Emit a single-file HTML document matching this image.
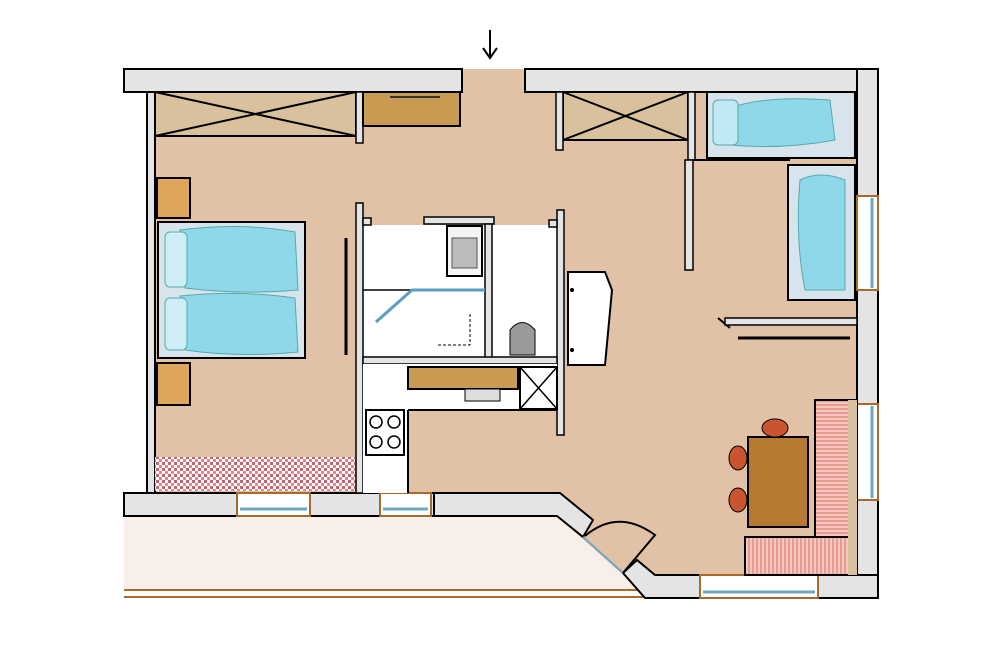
<!DOCTYPE html>
<html><head><meta charset="utf-8"><style>html,body{margin:0;padding:0;background:#fff}svg{display:block}</style></head>
<body>
<svg width="987" height="659" viewBox="0 0 987 659" xmlns="http://www.w3.org/2000/svg">
<defs>
<pattern id="chk" width="6" height="6" patternUnits="userSpaceOnUse"><rect width="6" height="6" fill="#fff"/><rect width="3" height="3" fill="#c9606a"/><rect x="3" y="3" width="3" height="3" fill="#d98a90"/></pattern>
<pattern id="str" width="4" height="4" patternUnits="userSpaceOnUse"><rect width="4" height="4" fill="#f3c7bd"/><rect width="2" height="4" fill="#e79a8f"/></pattern>
<pattern id="strh" width="4" height="4" patternUnits="userSpaceOnUse"><rect width="4" height="4" fill="#f3c7bd"/><rect width="4" height="2" fill="#e79a8f"/></pattern>
</defs>
<rect x="155" y="69" width="703" height="508" fill="#e1c2a6"/>
<polygon points="124,516 557,516 640,590 124,590" fill="#f8efea"/>
<line x1="124" y1="590" x2="645" y2="590" stroke="#a86a2c" stroke-width="2"/>
<line x1="124" y1="597" x2="645" y2="597" stroke="#a86a2c" stroke-width="2"/>
<rect x="124" y="69" width="338" height="23" fill="#e4e4e4" stroke="#000" stroke-width="2"/>
<rect x="525" y="69" width="353" height="23" fill="#e4e4e4" stroke="#000" stroke-width="2"/>
<rect x="147" y="92" width="8" height="401" fill="#e4e4e4" stroke="#000" stroke-width="2"/>
<rect x="857" y="69" width="21" height="529" fill="#e4e4e4" stroke="#000" stroke-width="2"/>
<rect x="857" y="196" width="21" height="94" fill="#fff" stroke="#a86a2c" stroke-width="2"/>
<line x1="872" y1="198" x2="872" y2="288" stroke="#6fa7c0" stroke-width="3"/>
<rect x="857" y="404" width="21" height="96" fill="#fff" stroke="#a86a2c" stroke-width="2"/>
<line x1="872" y1="406" x2="872" y2="498" stroke="#6fa7c0" stroke-width="3"/>
<rect x="124" y="493" width="310" height="23" fill="#e4e4e4" stroke="#000" stroke-width="2"/>
<polygon points="434,493 560,493 593,520 583,537 557,516 434,516" fill="#e4e4e4" stroke="#000" stroke-width="2"/>
<polygon points="623,573 637,560 655,575 700,575 700,598 645,598" fill="#e4e4e4" stroke="#000" stroke-width="2"/>
<line x1="583" y1="537" x2="623" y2="573" stroke="#6fa7c0" stroke-width="2"/>
<path d="M585,536 Q618,508 655,535 L623,573" fill="none" stroke="#000" stroke-width="2"/>
<rect x="818" y="575" width="60" height="23" fill="#e4e4e4" stroke="#000" stroke-width="2"/>
<rect x="237" y="493" width="73" height="23" fill="#fff" stroke="#a86a2c" stroke-width="2"/>
<line x1="240" y1="509" x2="307" y2="509" stroke="#6fa7c0" stroke-width="3"/>
<rect x="380" y="493" width="51" height="23" fill="#fff" stroke="#a86a2c" stroke-width="2"/>
<line x1="383" y1="509" x2="428" y2="509" stroke="#6fa7c0" stroke-width="3"/>
<rect x="700" y="575" width="118" height="23" fill="#fff" stroke="#a86a2c" stroke-width="2"/>
<line x1="703" y1="592" x2="815" y2="592" stroke="#6fa7c0" stroke-width="3"/>
<rect x="155" y="92" width="201" height="44" fill="#d8c19c" stroke="#000" stroke-width="2"/>
<path d="M155,92 L356,136 M356,92 L155,136" stroke="#000" stroke-width="2"/>
<rect x="356" y="92" width="7" height="51" fill="#e4e4e4" stroke="#000" stroke-width="1.5"/>
<rect x="363" y="92" width="97" height="34" fill="#c99a52" stroke="#000" stroke-width="2"/>
<line x1="390" y1="97" x2="440" y2="97" stroke="#333" stroke-width="2"/>
<rect x="563" y="92" width="125" height="48" fill="#d8c19c" stroke="#000" stroke-width="2"/>
<path d="M563,92 L688,140 M688,92 L563,140" stroke="#000" stroke-width="2"/>
<rect x="556" y="92" width="7" height="58" fill="#e4e4e4" stroke="#000" stroke-width="1.5"/>
<rect x="688" y="92" width="7" height="68" fill="#e4e4e4" stroke="#000" stroke-width="1.5"/>
<rect x="685" y="160" width="8" height="110" fill="#e4e4e4" stroke="#000" stroke-width="1.5"/>
<line x1="693" y1="160" x2="790" y2="160" stroke="#000" stroke-width="2"/>
<line x1="718" y1="318" x2="730" y2="328" stroke="#000" stroke-width="2"/>
<rect x="725" y="318" width="132" height="7" fill="#e4e4e4" stroke="#000" stroke-width="1.5"/>
<line x1="738" y1="338" x2="850" y2="338" stroke="#000" stroke-width="3"/>
<rect x="707" y="92" width="148" height="66" fill="#d8e4ec" stroke="#000" stroke-width="2"/>
<path d="M725,110 Q760,95 830,100 L835,140 Q780,150 730,145 Z" fill="#8fd8ea" stroke="#5aa" stroke-width="1"/>
<rect x="713" y="100" width="25" height="45" rx="5" fill="#bfeaf4" stroke="#5aa"/>
<rect x="788" y="165" width="67" height="135" fill="#d8e4ec" stroke="#000" stroke-width="2"/>
<path d="M800,180 Q820,170 845,180 L845,290 L805,290 Q795,240 800,180Z" fill="#8fd8ea" stroke="#5aa"/>
<rect x="157" y="178" width="33" height="40" fill="#e0a55c" stroke="#000" stroke-width="2"/>
<rect x="157" y="363" width="33" height="42" fill="#e0a55c" stroke="#000" stroke-width="2"/>
<rect x="158" y="222" width="147" height="136" fill="#d8e4ec" stroke="#000" stroke-width="2"/>
<path d="M180,230 Q240,222 295,232 L298,290 Q240,295 185,288 Z" fill="#8fd8ea" stroke="#5aa"/>
<path d="M180,296 Q240,290 295,298 L298,352 Q240,358 185,350 Z" fill="#8fd8ea" stroke="#5aa"/>
<rect x="165" y="232" width="22" height="55" rx="5" fill="#cdeef6" stroke="#5aa"/>
<rect x="165" y="298" width="22" height="52" rx="5" fill="#cdeef6" stroke="#5aa"/>
<line x1="346" y1="238" x2="346" y2="355" stroke="#000" stroke-width="3"/>
<rect x="155" y="457" width="200" height="34" fill="url(#chk)"/>
<rect x="363" y="225" width="194" height="132" fill="#fff"/>
<rect x="356" y="203" width="7" height="290" fill="#e4e4e4" stroke="#000" stroke-width="1.5"/>
<rect x="363" y="218" width="8" height="7" fill="#e4e4e4" stroke="#000" stroke-width="1.5"/>
<rect x="557" y="210" width="7" height="225" fill="#e4e4e4" stroke="#000" stroke-width="1.5"/>
<rect x="549" y="220" width="8" height="7" fill="#e4e4e4" stroke="#000" stroke-width="1.5"/>
<rect x="424" y="217" width="70" height="7" fill="#e4e4e4" stroke="#000" stroke-width="1.5"/>
<rect x="485" y="224" width="7" height="134" fill="#e4e4e4" stroke="#000" stroke-width="1.5"/>
<rect x="447" y="226" width="35" height="50" fill="#f4f4f4" stroke="#000" stroke-width="2"/>
<rect x="452" y="238" width="25" height="30" fill="#bbb" stroke="#555"/>
<line x1="363" y1="290" x2="485" y2="290" stroke="#000" stroke-width="1.5"/>
<line x1="376" y1="322" x2="412" y2="290" stroke="#5a9ec0" stroke-width="3"/>
<line x1="412" y1="290" x2="485" y2="290" stroke="#5a9ec0" stroke-width="3"/>
<path d="M438,345 L470,345 L470,312" fill="none" stroke="#000" stroke-width="1" stroke-dasharray="3,2"/>
<path d="M510,330 Q522,315 535,330 L535,355 L510,355 Z" fill="#9a9a9a" stroke="#000"/>
<rect x="363" y="357" width="194" height="7" fill="#e4e4e4" stroke="#000" stroke-width="1.5"/>
<path d="M568,272 L605,272 L612,290 L605,365 L568,365 Z" fill="#fff" stroke="#000" stroke-width="2"/>
<circle cx="572" cy="290" r="2" fill="#000"/><circle cx="572" cy="350" r="2" fill="#000"/>
<rect x="363" y="364" width="194" height="46" fill="#fff"/>
<rect x="363" y="410" width="45" height="83" fill="#fff"/>
<rect x="408" y="367" width="110" height="22" fill="#c99a52" stroke="#000" stroke-width="2"/>
<rect x="465" y="389" width="35" height="12" fill="#ddd" stroke="#000"/>
<rect x="520" y="367" width="37" height="42" fill="#fff" stroke="#000" stroke-width="2"/>
<path d="M520,367 L557,409 M557,367 L520,409" stroke="#000" stroke-width="1.5"/>
<line x1="408" y1="410" x2="557" y2="410" stroke="#000" stroke-width="2"/>
<line x1="408" y1="410" x2="408" y2="493" stroke="#000" stroke-width="2"/>
<rect x="366" y="410" width="38" height="45" fill="#fff" stroke="#000" stroke-width="2"/>
<circle cx="376" cy="422" r="6" fill="none" stroke="#000" stroke-width="1.5"/><circle cx="394" cy="422" r="6" fill="none" stroke="#000" stroke-width="1.5"/>
<circle cx="376" cy="442" r="6" fill="none" stroke="#000" stroke-width="1.5"/><circle cx="394" cy="442" r="6" fill="none" stroke="#000" stroke-width="1.5"/>
<rect x="815" y="400" width="42" height="175" fill="url(#strh)" stroke="#000" stroke-width="2"/>
<rect x="745" y="537" width="112" height="38" fill="url(#str)" stroke="#000" stroke-width="2"/>
<rect x="848" y="400" width="9" height="175" fill="#d8c19c"/>
<rect x="748" y="437" width="60" height="90" fill="#b87a32" stroke="#000" stroke-width="2"/>
<ellipse cx="775" cy="428" rx="13" ry="9" fill="#c8552e" stroke="#000"/>
<ellipse cx="738" cy="458" rx="9" ry="12" fill="#c8552e" stroke="#000"/>
<ellipse cx="738" cy="500" rx="9" ry="12" fill="#c8552e" stroke="#000"/>
<line x1="490" y1="30" x2="490" y2="56" stroke="#000" stroke-width="2"/>
<path d="M483,48 L490,58 L497,48" fill="none" stroke="#000" stroke-width="2"/>
</svg>
</body></html>
